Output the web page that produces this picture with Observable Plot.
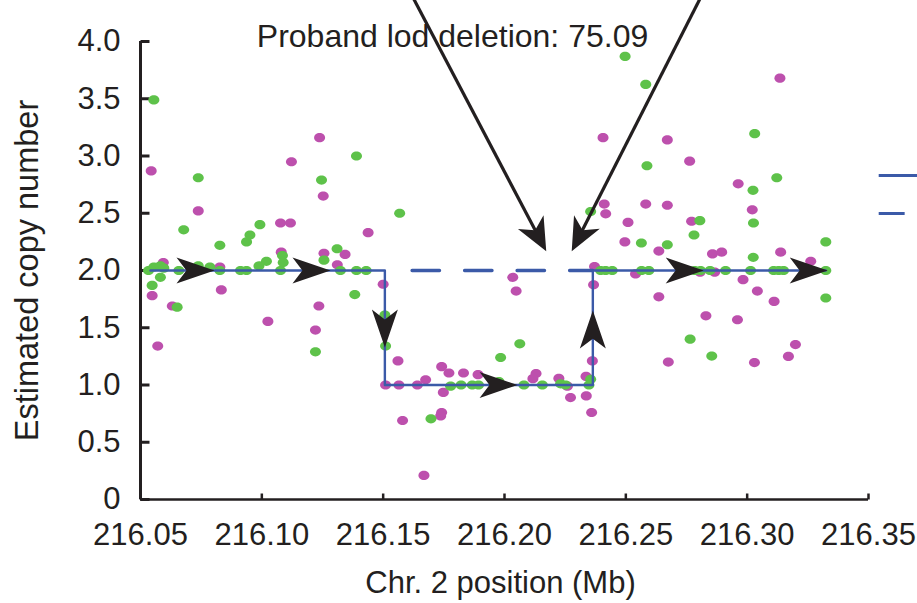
<!DOCTYPE html>
<html>
<head>
<meta charset="utf-8">
<script src="https://cdn.jsdelivr.net/npm/d3@7"></script>
<script src="https://cdn.jsdelivr.net/npm/@observablehq/plot@0.6"></script>
<style>
  html, body { margin: 0; padding: 0; background: #fff; }
  #chart { width: 917px; height: 603px; overflow: hidden; }
</style>
</head>
<body>
<div id="chart"></div>
<script>
// ---------- data ----------
const xTicks = [216.05, 216.10, 216.15, 216.20, 216.25, 216.30, 216.35];
const yTicks = [0, 0.5, 1, 1.5, 2, 2.5, 3, 3.5, 4];

const titleText = "Proband lod deletion: 75.09";
const xLabel = "Chr. 2 position (Mb)";
const yLabel = "Estimated copy number";

// green series (x in Mb, estimated copy number)
const greenPts = [
  [216.0555,3.49],[216.0548,1.87],[216.0582,1.94],[216.0555,2.03],[216.0582,2.04],[216.0596,2.02],
  [216.0533,2.0],[216.0651,1.68],[216.0658,2.0],[216.0678,2.355],[216.0738,2.81],[216.0738,2.04],
  [216.0786,2.03],[216.0827,2.22],[216.0827,2.0],[216.0912,2.0],[216.0937,2.0],[216.0937,2.25],
  [216.0951,2.31],[216.0988,2.04],[216.0992,2.40],[216.1019,2.08],[216.1085,2.13],[216.1088,2.07],
  [216.1077,2.0],[216.1246,2.79],[216.1256,2.09],[216.1310,2.19],[216.1324,2.0],[216.1390,3.0],
  [216.1383,1.79],[216.1221,1.29],[216.1390,2.0],[216.1430,2.0],[216.1568,2.50],[216.1507,1.61],
  [216.1510,1.34],[216.1697,0.705],[216.1778,0.99],[216.1821,1.0],[216.1867,1.0],[216.1893,1.0],
  [216.1977,1.03],[216.1984,1.24],[216.2063,1.36],[216.2080,1.0],[216.2156,1.0],[216.2231,1.01],
  [216.2252,1.0],[216.2355,1.05],[216.2348,1.0],[216.2355,2.515],[216.2396,2.0],[216.2417,2.0],
  [216.2444,2.0],[216.2497,3.87],[216.2564,2.24],[216.2565,2.0],[216.2595,2.0],[216.2582,3.625],
  [216.2587,2.915],[216.2671,2.225],[216.2805,2.435],[216.2781,2.31],[216.2759,2.0],[216.2784,2.0],
  [216.2808,2.0],[216.2765,1.40],[216.2854,1.253],[216.2847,2.0],[216.2911,2.0],[216.3014,2.0],
  [216.3024,2.70],[216.3026,2.415],[216.3025,2.115],[216.3031,3.195],[216.3109,2.0],[216.3130,2.0],
  [216.3150,2.0],[216.3122,2.81],[216.3248,2.0],[216.3324,2.25],[216.3324,2.0],[216.3324,1.76]
];

// magenta series
const magentaPts = [
  [216.0544,2.87],[216.0548,1.78],[216.0571,1.34],[216.0594,2.07],[216.0631,1.69],[216.0738,2.52],
  [216.0827,2.03],[216.0833,1.83],[216.1025,1.555],[216.1077,2.415],[216.1118,2.415],[216.1122,2.95],
  [216.1080,2.16],[216.1238,3.16],[216.1253,2.65],[216.1256,2.15],[216.1311,2.05],[216.1343,2.14],
  [216.1235,1.69],[216.1221,1.48],[216.1438,2.33],[216.1500,1.88],[216.1561,1.21],[216.1510,1.0],
  [216.1565,1.0],[216.1580,0.69],[216.1641,1.0],[216.1675,1.045],[216.1668,0.21],[216.1741,1.16],
  [216.1771,1.105],[216.1748,0.935],[216.1741,0.76],[216.1737,0.73],[216.1831,1.105],[216.1891,1.09],
  [216.2034,1.94],[216.2048,1.82],[216.2130,1.10],[216.2117,1.055],[216.2224,1.057],[216.2259,0.99],
  [216.2272,0.89],[216.2336,1.075],[216.2337,0.905],[216.2359,0.76],[216.2362,1.21],[216.2367,1.875],
  [216.2371,2.035],[216.2406,3.16],[216.2411,2.58],[216.2417,2.495],[216.2509,2.42],[216.2496,2.25],
  [216.2540,1.97],[216.2582,2.58],[216.2636,2.17],[216.2636,1.77],[216.2671,3.14],[216.2671,2.57],
  [216.2675,1.20],[216.2763,2.955],[216.2771,2.43],[216.2830,1.604],[216.2857,2.145],[216.2895,2.16],
  [216.2806,1.985],[216.2866,1.985],[216.2960,1.57],[216.2963,2.757],[216.2983,1.92],[216.3021,2.53],
  [216.3042,1.82],[216.3030,1.196],[216.3111,1.73],[216.3135,3.68],[216.3138,2.16],[216.3170,1.25],
  [216.3199,1.353],[216.3262,2.08]
];

// segmentation (copy-number call) path
const stepX = [216.0541, 216.1507, 216.1507, 216.2364, 216.2364, 216.3324];
const stepY = [2, 2, 1, 1, 2, 2];
// expected copy number over the deleted region (dashed)
const dashX = [216.1516, 216.2364];
const dashY = [2, 2];

// direction arrowheads on the path: x, y of tip, direction
const pathArrowX = [216.0805, 216.1283, 216.1507, 216.2054, 216.2364, 216.2821, 216.3332];
const pathArrowY = [2, 2, 1.327, 1.0, 1.65, 2, 2];
const pathArrowDir = ["right", "right", "down", "right", "up", "right", "right"];

// breakpoint pointer arrows from the top: start (x1,y1) -> tip (x2,y2)
const pointerX1 = [216.1619, 216.2812];
const pointerY1 = [4.40, 4.40];
const pointerX2 = [216.2172, 216.2277];
const pointerY2 = [2.168, 2.168];
const pointerAngle = [62, 117.4];

// legend swatches (partly cut off on the right)
const legendY = [2.83, 2.498];
const legendX1 = [216.3542, 216.3542];
const legendX2 = [216.3703, 216.3649];

// ---------- styling ----------
const GREEN = "#5ec24a";
const MAGENTA = "#bd50ad";
const BLUE = "#3b5aa8";
const INK = "#231f20";
const FONT = "Liberation Sans, Arial, Helvetica, sans-serif";
const FS = 31;

const ellipse = {
  draw(ctx) {
    const rx = 5.5, ry = 4.6, k = 0.5523;
    ctx.moveTo(rx, 0);
    ctx.bezierCurveTo(rx, ry * k, rx * k, ry, 0, ry);
    ctx.bezierCurveTo(-rx * k, ry, -rx, ry * k, -rx, 0);
    ctx.bezierCurveTo(-rx, -ry * k, -rx * k, -ry, 0, -ry);
    ctx.bezierCurveTo(rx * k, -ry, rx, -ry * k, rx, 0);
    ctx.closePath();
  }
};

function arrowHead(deg, L, W, notch) {
  const a = deg * Math.PI / 180, c = Math.cos(a), s = Math.sin(a);
  const P = (x, y) => [x * c - y * s, x * s + y * c];
  return {
    draw(ctx) {
      const pts = [P(0, 0), P(-L, -W), P(-L * notch, 0), P(-L, W)];
      ctx.moveTo(pts[0][0], pts[0][1]);
      for (let i = 1; i < pts.length; i++) ctx.lineTo(pts[i][0], pts[i][1]);
      ctx.closePath();
    }
  };
}
const dirAngle = {right: 0, down: 90, up: -90};

const yTickSym = {draw(ctx) { ctx.moveTo(0, 0); ctx.lineTo(9, 0); }};
const xTickSym = {draw(ctx) { ctx.moveTo(0, 0); ctx.lineTo(0, -6); }};

const green = greenPts.map(([x, y]) => ({x, y}));
const magenta = magentaPts.map(([x, y]) => ({x, y}));
const step = stepX.map((x, i) => ({x, y: stepY[i]}));
const dash = dashX.map((x, i) => ({x, y: dashY[i]}));
const pointers = pointerX1.map((x1, i) => ({x1, y1: pointerY1[i], x2: pointerX2[i], y2: pointerY2[i], a: pointerAngle[i]}));
// shorten pointer shafts so they end inside the arrowhead notch
const shafts = pointers.map(p => ({x1: p.x1, y1: p.y1, x2: p.x2 - (p.x2 - p.x1) * 0.075, y2: p.y2 + (p.y1 - p.y2) * 0.075}));

const marks = [
  // axis lines
  Plot.ruleX([xTicks[0]], {y1: 0, y2: 4, stroke: INK, strokeWidth: 3}),
  Plot.ruleY([0], {x1: xTicks[0], x2: xTicks[xTicks.length - 1], stroke: INK, strokeWidth: 2.5}),
  // inward ticks
  Plot.dot(yTicks, {x: () => xTicks[0], y: d => d, symbol: yTickSym, fill: "none", stroke: INK, strokeWidth: 3}),
  Plot.dot(xTicks, {x: d => d, y: () => 0, symbol: xTickSym, fill: "none", stroke: INK, strokeWidth: 2.5}),
  // data points
  Plot.dot(magenta, {x: "x", y: "y", symbol: ellipse, fill: MAGENTA, stroke: "none"}),
  Plot.dot(green, {x: "x", y: "y", symbol: ellipse, fill: GREEN, stroke: "none"}),
  // segmentation lines
  Plot.line(dash, {x: "x", y: "y", stroke: BLUE, strokeWidth: 3.3, strokeDasharray: "27.5,25", strokeDashoffset: 27.5}),
  Plot.line(step, {x: "x", y: "y", stroke: BLUE, strokeWidth: 2.4}),
  // path arrowheads
  ...pathArrowX.map((x, i) => Plot.dot([{x, y: pathArrowY[i]}], {
    x: "x", y: "y", symbol: arrowHead(dirAngle[pathArrowDir[i]], 38, 13, 0.74), fill: INK, stroke: "none"
  })),
  // breakpoint pointers
  Plot.link(shafts, {x1: "x1", y1: "y1", x2: "x2", y2: "y2", stroke: INK, strokeWidth: 3.2}),
  ...pointers.map(p => Plot.dot([p], {x: "x2", y: "y2", symbol: arrowHead(p.a, 33, 14.5, 0.72), fill: INK, stroke: "none"})),
  // legend swatches
  Plot.link(legendY.map((y, i) => ({y, x1: legendX1[i], x2: legendX2[i]})), {x1: "x1", x2: "x2", y1: "y", y2: "y", stroke: BLUE, strokeWidth: 3}),
  // texts
  Plot.text([titleText], {frameAnchor: "top", text: d => d, dx: -52, dy: -5, lineAnchor: "middle", textAnchor: "middle", fontSize: 32, fontFamily: FONT, fill: INK}),
  Plot.text([xLabel], {frameAnchor: "bottom", text: d => d, dx: -4, dy: 84, lineAnchor: "middle", textAnchor: "middle", fontSize: FS, fontFamily: FONT, fill: INK}),
  Plot.text([yLabel], {frameAnchor: "left", text: d => d, rotate: -90, dx: -113, lineAnchor: "middle", textAnchor: "middle", fontSize: 32.5, fontFamily: FONT, fill: INK})
];

const chart = Plot.plot({
  width: 917,
  height: 603,
  marginLeft: 140,
  marginRight: 49,
  marginTop: 41,
  marginBottom: 104,
  style: {fontSize: FS + "px", fontFamily: FONT, color: INK, background: "#fff", overflow: "visible"},
  x: {domain: [216.05, 216.35], ticks: xTicks, tickFormat: d => d.toFixed(2), tickSize: 0, tickPadding: 23, label: null},
  y: {domain: [0, 4], ticks: yTicks, tickFormat: d => d === 0 ? "0" : d.toFixed(1), tickSize: 0, tickPadding: 20, label: null},
  marks
});
document.getElementById("chart").appendChild(chart);
</script>
</body>
</html>
